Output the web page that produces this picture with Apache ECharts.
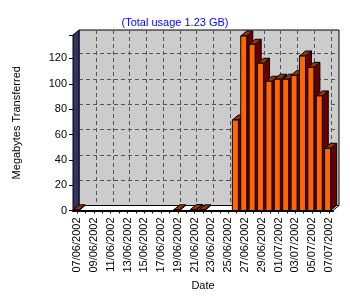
<!DOCTYPE html>
<html><head><meta charset="utf-8">
<script src="https://cdn.jsdelivr.net/npm/echarts@6/dist/echarts.min.js"></script>
<style>html,body{margin:0;padding:0;background:#fff}#c{width:350px;height:300px}</style>
</head><body><div id="c"></div>
<script>
const dates = ['07/06/2002','08/06/2002','09/06/2002','10/06/2002','11/06/2002','12/06/2002','13/06/2002','14/06/2002','15/06/2002','16/06/2002','17/06/2002','18/06/2002','19/06/2002','20/06/2002','21/06/2002','22/06/2002','23/06/2002','24/06/2002','25/06/2002','26/06/2002','27/06/2002','28/06/2002','29/06/2002','30/06/2002','01/07/2002','02/07/2002','03/07/2002','04/07/2002','05/07/2002','06/07/2002','07/07/2002'];
const megabytes = [0.5,0,0,0,0,0,0,0,0,0,0,0,0.5,0,0.8,0.5,0,0,0,71.4,137.7,131.2,116.2,102,103.6,103.6,106.7,121.9,113,90.4,49.1];
const yTicks = [0,20,40,60,80,100,120];
const yMax = 138.5;
const titleText = '(Total usage 1.23 GB)';
const DX = 6, DY = -5;
const FONT = '"Liberation Sans", Arial, sans-serif';

const chart = echarts.init(document.getElementById('c'), null, {renderer:'canvas'});

function wallItem(params, api) {
  const n = dates.length;
  const w = api.size([1, 0])[0];
  const p0 = api.coord([0, 0]);
  const left = p0[0] - w / 2;
  const right = left + w * n;
  const y0 = p0[1];
  const yTop = api.coord([0, yMax])[1];
  const children = [];
  children.push({type:'polygon', shape:{points:[[left+DX,y0+DY],[right+DX,y0+DY],[right+DX,yTop+DY],[left+DX,yTop+DY]]}, style:{fill:'#cccccc', stroke:'#000', lineWidth:1}});
  const gs = {stroke:'#555', lineDash:[4,3], lineWidth:1};
  yTicks.forEach(v => {
    if (v === 0) return;
    const y = Math.round(api.coord([0, v])[1] + DY) + 0.5;
    children.push({type:'line', shape:{x1:left+DX, y1:y, x2:right+DX, y2:y}, style:gs});
  });
  for (let k = 2; k < n; k += 2) {
    const x = Math.round(left + w * k + DX) + 0.5;
    children.push({type:'line', shape:{x1:x, y1:yTop+DY, x2:x, y2:y0+DY}, style:gs});
  }
  children.push({type:'polygon', shape:{points:[[left,y0],[left+DX,y0+DY],[left+DX,yTop+DY],[left,yTop]]}, style:{fill:'#333366', stroke:'#000', lineWidth:1}});
  children.push({type:'polygon', shape:{points:[[left,y0],[right,y0],[right+DX,y0+DY],[left+DX,y0+DY]]}, style:{fill:'#ffffff', stroke:'#000', lineWidth:1}});
  return {type:'group', children};
}

function barItem(params, api) {
  const v = api.value(1);
  if (!(v > 0)) return;
  const i = api.value(0);
  const w = api.size([1, 0])[0];
  const c = api.coord([i, v]);
  const b = api.coord([i, 0]);
  const x0 = c[0] - w / 2;
  const x1 = x0 + w * 0.72;
  const yt = c[1], yb = b[1];
  return {type:'group', children:[
    {type:'polygon', shape:{points:[[x1,yb],[x1+DX,yb+DY],[x1+DX,yt+DY],[x1,yt]]}, style:{fill:'#660000', stroke:'#000', lineWidth:1}},
    {type:'polygon', shape:{points:[[x0,yt],[x0+DX,yt+DY],[x1+DX,yt+DY],[x1,yt]]}, style:{fill:'#993300', stroke:'#000', lineWidth:1}},
    {type:'rect', shape:{x:x0, y:yt, width:x1-x0, height:yb-yt}, style:{fill:'#ff6600', stroke:'#000', lineWidth:1}}
  ]};
}

chart.setOption({
  animation: false,
  backgroundColor: '#fff',
  title: {text: titleText, left: 'center', top: 12, textStyle:{fontSize:11, fontWeight:'normal', color:'#0000ff', fontFamily:FONT}},
  grid: {left: 73, right: 17, top: 35, bottom: 89.5, containLabel: false},
  xAxis: {
    type: 'category', data: dates, boundaryGap: true,
    axisLine: {lineStyle:{color:'#000', width:2}},
    axisTick: {show:true, interval:0, alignWithLabel:true, length:3, lineStyle:{color:'#000'}},
    axisLabel: {rotate:90, interval:1, fontSize:11, color:'#000', fontFamily:FONT, margin:7},
    name: 'Date', nameLocation: 'middle', nameGap: 61,
    nameTextStyle: {fontSize:11, color:'#000', fontFamily:FONT}
  },
  yAxis: {
    type: 'value', min: 0, max: yMax, interval: 20,
    splitLine: {show:false},
    axisLine: {show:true, lineStyle:{color:'#000'}},
    axisTick: {show:true, length:4, lineStyle:{color:'#000'}},
    axisLabel: {fontSize:11, color:'#000', fontFamily:FONT, margin:6, formatter: v => (v % 20 === 0 ? String(v) : '')},
    name: 'Megabytes Transferred', nameLocation: 'middle', nameGap: 51, nameRotate: 90,
    nameTextStyle: {fontSize:11, color:'#000', fontFamily:FONT}
  },
  series: [
    {type:'custom', renderItem: wallItem, data: [[0, 0]], encode:{x:0, y:1}, clip:false, z:1, silent:true},
    {type:'custom', renderItem: barItem, data: megabytes.map((v, i) => [i, v]), encode:{x:0, y:1}, clip:false, z:2, silent:true}
  ]
});
</script>
</body></html>
